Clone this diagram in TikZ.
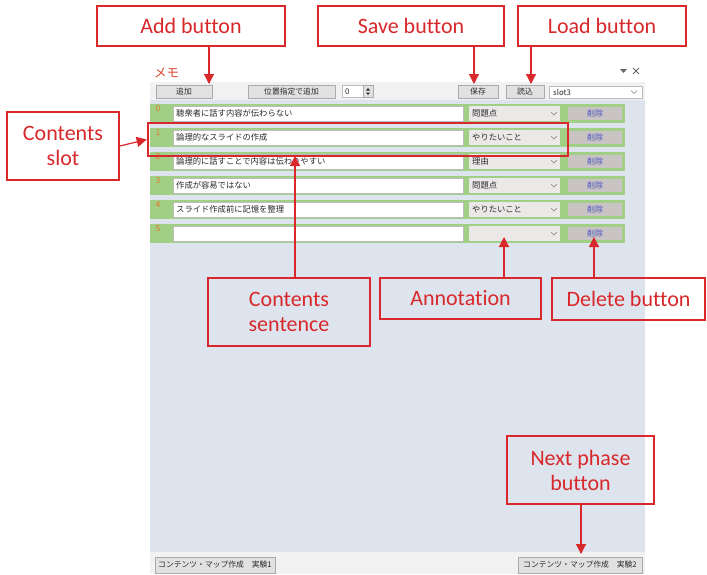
\documentclass[tikz,border=0pt]{standalone}
\usepackage{fontspec}
\newfontfamily\labfont[Ligatures=NoCommon]{Carlito}
\newfontfamily\jpfont{Noto Sans CJK JP}
\usetikzlibrary{arrows.meta}
\definecolor{callred}{HTML}{D8282B}
\definecolor{panelblue}{HTML}{DDE4EE}
\definecolor{barbg}{HTML}{F1F1F1}
\definecolor{rowgreen}{HTML}{A2CF86}
\definecolor{combobg}{HTML}{ECE8E8}
\definecolor{delbg}{HTML}{C9C3C3}
\definecolor{delblue}{HTML}{4B55C0}
\definecolor{numorange}{HTML}{E2792A}
\definecolor{btnbg}{HTML}{E1E1E1}
\definecolor{btnline}{HTML}{ABABAB}
\definecolor{titlered}{HTML}{D8472F}
\definecolor{uiink}{HTML}{2A2A2A}

\tikzset{
  callout/.style={draw=callred, line width=1.8pt, text=callred,
    font=\labfont\fontsize{22}{25}\selectfont, align=center, inner sep=0pt},
  arr/.style={draw=callred, line width=1.2pt, -{Triangle[width=10pt,length=10pt]}},
  uitext/.style={font=\jpfont\fontsize{8.3}{9}\selectfont, text=uiink, inner sep=0pt},
  smalltext/.style={font=\jpfont\fontsize{7.8}{8}\selectfont, text=uiink, inner sep=0pt},
  btn/.style={draw=btnline, fill=btnbg, line width=0.6pt, smalltext, minimum height=13pt},
  field/.style={draw=btnline!80, fill=white, line width=0.5pt, inner sep=0pt, minimum height=15pt},
  combo/.style={fill=combobg, inner sep=0pt, minimum height=15pt, minimum width=91pt},
  delbtn/.style={fill=delbg, inner sep=0pt, minimum height=13pt, minimum width=54pt,
    font=\jpfont\fontsize{8}{9}\selectfont, text=delblue},
  numtext/.style={font=\jpfont\fontsize{8.5}{9}\selectfont, text=numorange, inner sep=0pt},
  chevron/.style={draw=gray, line width=0.6pt}
}

\begin{document}
\begin{tikzpicture}[x=1pt,y=-1pt]
\useasboundingbox (0,0) rectangle (707,574);
\fill[white] (0,0) rectangle (707,574);

% window background: toolbar, memo panel, bottom strip
\fill[barbg] (150,82) rectangle (645,100);
\fill[panelblue] (150,100) rectangle (645,552);
\fill[barbg] (150,552) rectangle (645,574);

% title and window controls
\node[font=\jpfont\fontsize{12.5}{13}\selectfont, text=titlered, anchor=west, inner sep=0pt] (title) at (154,73) {メモ};
\fill[gray!80!black] (620,69) -- (627,69) -- (623.5,73) -- cycle;
\draw[gray!80!black, line width=1pt] (633,68) -- (639,74) (639,68) -- (633,74);

% toolbar
\node[btn, minimum width=56pt] (addbtn) at (184,91.5) {追加};
\node[btn, minimum width=87pt] (insbtn) at (291.5,91.5) {位置指定で追加};
\node[field, minimum width=21pt, minimum height=12pt, anchor=west] (spin) at (342,91.5) {};
\node[smalltext, anchor=west] (spinval) at (345,91.5) {0};
\node[draw=btnline, fill=btnbg, line width=0.5pt, minimum width=10pt, minimum height=12pt, inner sep=0pt] (spinbtn) at (368,91.5) {};
\fill[uiink] (366,90.5) -- (370,90.5) -- (368,88) -- cycle;
\fill[uiink] (366,92.5) -- (370,92.5) -- (368,95) -- cycle;
\node[btn, minimum width=40pt] (savebtn) at (478,91.5) {保存};
\node[btn, minimum width=38pt] (loadbtn) at (525,91.5) {読込};
\node[field, minimum width=93pt, minimum height=12pt, anchor=west] (slotsel) at (549,92) {};
\node[smalltext, anchor=west] (slotname) at (553,92) {slot3};
\draw[chevron] (631,90.5) -- (634,93.5) -- (637,90.5);

% memo rows
\foreach \i/\txt/\ann in {0/聴衆者に話す内容が伝わらない/問題点,
                          1/論理的なスライドの作成/やりたいこと,
                          2/論理的に話すことで内容は伝わりやすい/理由,
                          3/作成が容易ではない/問題点,
                          4/スライド作成前に記憶を整理/やりたいこと,
                          5/{}/{}}{
  \pgfmathsetmacro\ry{104+24*\i}
  \fill[rowgreen] (150,\ry) rectangle (625,\ry+19);
  \node[numtext, anchor=north west] (num\i) at (155.5,\ry+1.5) {\i};
  \node[field, minimum width=290pt, anchor=north west] (txt\i) at (173,\ry+2) {};
  \node[uitext, anchor=west] (txtval\i) at (176,\ry+9.5) {\txt};
  \node[combo, anchor=north west] (cmb\i) at (469,\ry+2) {};
  \node[uitext, anchor=west] (cmbval\i) at (472,\ry+9.5) {\ann};
  \draw[chevron] (551,\ry+8) -- (554,\ry+11) -- (557,\ry+8);
  \node[delbtn] (del\i) at (595,\ry+9.5) {削除};
}

% bottom phase buttons
\node[btn, minimum width=120pt, minimum height=16pt] (phase1) at (215,565) {コンテンツ・マップ作成　実験1};
\node[btn, minimum width=124pt, minimum height=16pt] (phase2) at (580,565) {コンテンツ・マップ作成　実験2};

% highlighted contents slot
\node[draw=callred, line width=2.6pt, minimum width=420pt, minimum height=33pt, inner sep=0pt] (slotbox) at (358,139.5) {};

% callout boxes
\node[callout, minimum width=188pt, minimum height=40pt] (addlbl) at (191,26) {Add button};
\node[callout, minimum width=186pt, minimum height=40pt] (savelbl) at (411,26) {Save button};
\node[callout, minimum width=168pt, minimum height=40pt] (loadlbl) at (602,26) {Load button};
\node[callout, minimum width=112pt, minimum height=68pt] (slotlbl) at (63,146) {Contents\\slot};
\node[callout, minimum width=162pt, minimum height=68pt] (sentlbl) at (289,312) {Contents\\sentence};
\node[callout, minimum width=161pt, minimum height=41pt] (annlbl) at (460.5,298.5) {Annotation};
\node[callout, minimum width=153pt, minimum height=42pt] (dellbl) at (628.5,299) {Delete button};
\node[callout, minimum width=147pt, minimum height=68pt] (nextlbl) at (580.5,470) {Next phase\\button};

% arrow tips
\coordinate (addtip) at (209,84);
\coordinate (savetip) at (474,84);
\coordinate (loadtip) at (531,84);
\coordinate (senttip) at (295,156);
\coordinate (anntip) at (504,237);
\coordinate (deltip) at (594,237);
\coordinate (nexttip) at (581,554);

% connectors
\draw[arr] (addlbl.south -| addtip) -- (addtip);
\draw[arr] (savelbl.south -| savetip) -- (savetip);
\draw[arr] (loadlbl.south -| loadtip) -- (loadtip);
\draw[arr] (slotlbl.east) -- (slotbox.west);
\draw[arr] (sentlbl.north -| senttip) -- (senttip);
\draw[arr] (annlbl.north -| anntip) -- (anntip);
\draw[arr] (dellbl.north -| deltip) -- (deltip);
\draw[arr] (nextlbl.south -| nexttip) -- (nexttip);
\end{tikzpicture}
\end{document}
